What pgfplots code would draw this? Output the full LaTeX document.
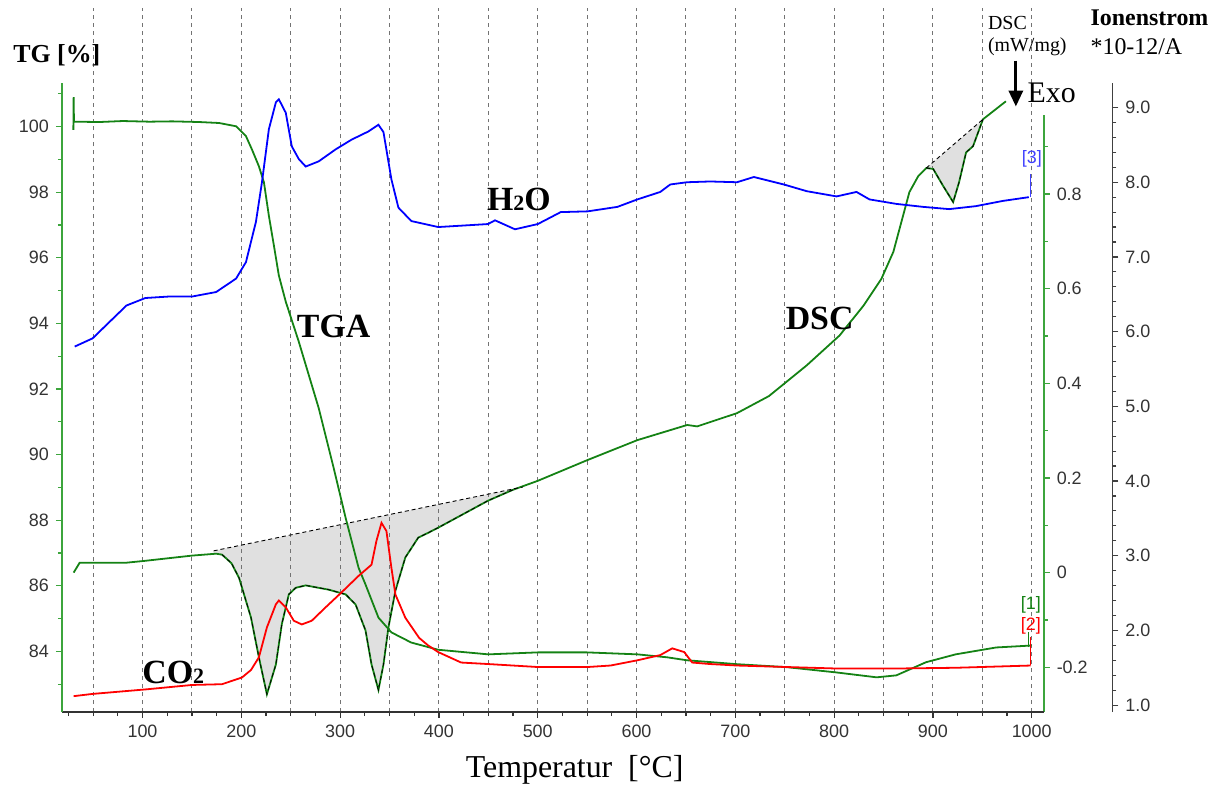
\documentclass[border=0pt]{standalone}
\usepackage{pgfplots}
\pgfplotsset{compat=1.18}
\usepackage{pgfplotstable}
\usepgfplotslibrary{fillbetween}
\usetikzlibrary{arrows.meta}
\usepackage{fontspec}
\setmainfont{Liberation Serif}
\newfontfamily\tickfont{Liberation Sans}

\definecolor{tggreen}{RGB}{20,130,20}
\definecolor{axgreen}{RGB}{60,165,60}
\definecolor{h2oblue}{RGB}{0,0,255}
\definecolor{co2red}{RGB}{255,0,0}

\pgfplotstableread{
T V
30.0 99.90
30.3 100.90
30.6 100.15
56.6 100.14
80 100.17
107 100.15
130 100.16
157 100.14
177.5 100.11
194.7 100.01
204.7 99.71
210.8 99.30
217.8 98.79
222.9 98.30
227.9 97.28
233.0 96.37
238.0 95.46
245.0 94.66
258.2 93.44
278.4 91.41
293.5 89.59
305.6 88.07
318.7 86.55
325.7 86.04
338.8 85.03
351.9 84.58
372.0 84.27
399.3 84.05
450 83.91
500 83.97
550 83.97
601 83.91
631 83.82
651 83.73
702 83.61
752 83.52
802 83.36
843 83.21
863 83.27
893 83.67
923 83.91
964 84.12
1000 84.18
}\tgdata

\pgfplotstableread{
T V
30.3 0.000
36.4 0.021
83.8 0.021
102.9 0.025
150.3 0.036
174.5 0.040
180.5 0.038
190.0 0.020
197.7 -0.011
209.8 -0.095
217.8 -0.179
225.9 -0.257
235.0 -0.194
241.0 -0.109
248.1 -0.046
255.1 -0.032
265.2 -0.027
288.4 -0.036
305.6 -0.046
315.6 -0.067
325.7 -0.122
331.8 -0.194
338.8 -0.248
343.9 -0.194
348.9 -0.116
356.0 -0.038
366.0 0.032
379.1 0.074
389.0 0.084
399.3 0.095
449.7 0.152
474.9 0.175
500.1 0.194
550.5 0.238
600.9 0.280
651.3 0.312
661.4 0.309
701.7 0.337
734.0 0.373
772.3 0.438
805.5 0.501
829.7 0.564
847.9 0.621
860.0 0.678
868.1 0.741
876.2 0.804
885.2 0.838
893.3 0.855
900.3 0.853
910.4 0.817
920.5 0.783
926.5 0.825
933.6 0.888
940.6 0.901
950.7 0.958
973.9 0.996
}\dscdata

\pgfplotstableread{
T V
31.4 5.80
49.5 5.91
66.6 6.13
83.8 6.35
102.9 6.45
127.1 6.47
150.3 6.47
174.5 6.53
194.7 6.71
204.7 6.93
214.8 7.47
220.9 8.00
227.9 8.71
235.0 9.07
238.0 9.11
245.0 8.93
251.1 8.48
258.2 8.31
265.2 8.21
278.4 8.28
295.5 8.44
311.6 8.57
328.7 8.68
338.8 8.77
343.9 8.67
351.9 8.04
359.0 7.66
372.1 7.48
399.3 7.40
449.7 7.44
456.8 7.49
477.0 7.37
500.1 7.44
523.3 7.60
550.5 7.61
580.7 7.67
600.9 7.77
624.1 7.87
634.2 7.97
651.3 8.00
674.5 8.01
701.7 8.00
718.8 8.07
749.1 7.97
772.3 7.88
802.5 7.81
822.7 7.87
835.8 7.77
863.0 7.71
890.2 7.67
916.4 7.64
943.6 7.68
970.9 7.75
997.1 7.80
}\hdata

\pgfplotstableread{
T V
30.3 1.12
49.5 1.15
102.9 1.21
150.3 1.27
180.5 1.28
200.7 1.37
209.8 1.47
217.8 1.64
225.9 2.04
235.0 2.35
238.0 2.40
245.0 2.31
253.1 2.13
261.2 2.08
271.3 2.13
285.4 2.31
301.5 2.51
318.7 2.73
331.8 2.88
336.8 3.20
341.9 3.44
346.9 3.33
351.9 2.84
356.0 2.48
366.0 2.17
380.0 1.90
389.0 1.80
399.3 1.71
422.5 1.57
449.7 1.55
500.1 1.51
550.5 1.51
573.7 1.53
600.9 1.60
624.1 1.67
636.2 1.76
648.3 1.71
656.4 1.57
674.5 1.55
701.7 1.53
752.1 1.51
802.5 1.49
863.0 1.49
923.5 1.50
999.0 1.53
}\cdata

\pgfplotsset{
 base/.style={scale only axis, width=493pt, height=316pt, at={(0pt,0pt)}, anchor=south west, xmin=18.25, xmax=1012.2},
 mytick/.style={tick align=outside, major tick length=3pt, minor tick length=2pt,
   /pgf/number format/assume math mode=true, /pgf/number format/1000 sep={},
   tick label style={font=\tickfont\fontsize{9}{10}\selectfont, text=black!80}},
}

\begin{document}
\begin{tikzpicture}
\path (-31pt,-38pt) rectangle (576.5pt,357.5pt);

% shaded peak areas (DSC scale)
\begin{axis}[base, ymin=-0.2947, ymax=1.0358, hide axis]
\addplot[draw=none, name path=dsc] table[x=T,y=V]{\dscdata};
\addplot[draw=none, name path=b1] coordinates {(172,0.046) (485,0.181)};
\addplot[draw=none, name path=b2] coordinates {(893.3,0.855) (950.7,0.958)};
\addplot[black!12] fill between[of=dsc and b1, soft clip={domain=172:485}];
\addplot[black!12] fill between[of=dsc and b2, soft clip={domain=893.3:950.7}];
\end{axis}

% vertical dashed grid
\begin{axis}[scale only axis, width=493pt, height=353.5pt, at={(0pt,0pt)}, anchor=south west,
  xmin=18.25, xmax=1012.2, ymin=0, ymax=1,
  xtick={50,100,...,1000}, ytick=\empty, xticklabels={},
  xmajorgrids, major grid style={black!55, dash pattern=on 2pt off 2pt, line width=0.45pt},
  axis line style={draw=none}, tick style={draw=none}]
\addplot[draw=none] coordinates {(500,0.5)};
\end{axis}

% DSC axis
\begin{axis}[scale only axis, width=493pt, height=300pt, at={(0pt,0pt)}, anchor=south west,
  xmin=18.25, xmax=1012.2, ymin=-0.2947, ymax=0.968, clip=false,
  axis x line=none, axis y line*=right, mytick,
  ytick={-0.2,0,0.2,0.4,0.6,0.8}, minor ytick={-0.1,0.1,0.3,0.5,0.7,0.9},
  y axis line style={-, axgreen, line width=0.8pt}, ytick style={axgreen, line width=0.6pt},
  yticklabel style={/pgf/number format/fixed}]
\addplot[tggreen, line width=0.9pt] table[x=T,y=V]{\dscdata};
\addplot[black, dash pattern=on 2pt off 1.5pt, line width=0.45pt] coordinates {(172,0.046) (485,0.181)};
\addplot[black, dash pattern=on 2pt off 1.5pt, line width=0.45pt] coordinates {(893.3,0.855) (950.7,0.958)};
\addplot[black, dash pattern=on 2pt off 1.5pt, line width=0.4pt, restrict x to domain=176:476] table[x=T,y=V]{\dscdata};
\addplot[black, dash pattern=on 2pt off 1.5pt, line width=0.4pt, restrict x to domain=893:951] table[x=T,y=V]{\dscdata};
\end{axis}

% TG axis with x axis
\begin{axis}[base, ymin=82.15, ymax=101.34,
  axis x line*=bottom, axis y line*=left, mytick,
  xtick={100,200,...,1000}, minor xtick={25,50,...,1000},
  ytick={84,86,...,100}, minor ytick={83,85,...,101},
  x axis line style={-, black!80, line width=0.8pt}, y axis line style={-, axgreen, line width=0.8pt},
  xtick style={black!80, line width=0.6pt}, ytick style={axgreen, line width=0.6pt}]
\addplot[tggreen, line width=0.9pt] table[x=T,y=V]{\tgdata};
\end{axis}

% Ion current axis
\begin{axis}[scale only axis, width=527.5pt, height=316pt, at={(0pt,0pt)}, anchor=south west,
  xmin=18.25, xmax=1081.76, ymin=0.9067, ymax=9.333,
  axis x line=none, axis y line*=right, mytick,
  ytick={1,2,...,9}, minor y tick num=4,
  yticklabel style={/pgf/number format/fixed, /pgf/number format/fixed zerofill, /pgf/number format/precision=1},
  y axis line style={-, black!75, line width=0.8pt}, ytick style={black!75, line width=0.6pt}]
\addplot[h2oblue, line width=0.9pt] table[x=T,y=V]{\hdata};
\addplot[co2red, line width=0.9pt] table[x=T,y=V]{\cdata};
\end{axis}

% annotations
\node[font=\bfseries\fontsize{13}{15}\selectfont] at (-2.5pt,330pt) {TG [\%]};
\node[anchor=west, align=left, font=\fontsize{10}{11}\selectfont] at (461.5pt,339.5pt) {DSC\\(mW/mg)};
\node[anchor=west, align=left, font=\fontsize{12}{14.5}\selectfont] at (513pt,341.25pt) {{\bfseries Ionenstrom}\\{}*10-12/A};
\draw[line width=1.6pt, -{Triangle[length=8pt,width=7pt]}] (479pt,327pt) -- (479pt,304pt);
\node[font=\fontsize{15}{17}\selectfont] at (497pt,311pt) {Exo};
\node[font=\fontsize{16}{18}\selectfont] at (257.5pt,-29pt) {Temperatur\enspace[°C]};
\node[font=\bfseries\fontsize{17}{19}\selectfont] at (229.5pt,257.5pt) {H{\fontsize{11}{11}\selectfont 2}O};
\node[font=\bfseries\fontsize{17}{19}\selectfont] at (136.5pt,193.5pt) {TGA};
\node[font=\bfseries\fontsize{17}{19}\selectfont] at (380.5pt,197.5pt) {DSC};
\node[font=\bfseries\fontsize{17}{19}\selectfont] at (56pt,20pt) {CO{\fontsize{11}{11}\selectfont 2}};
\node[text=h2oblue!75, font=\tickfont\fontsize{9}{10}\selectfont] at (487pt,277.5pt) {[3]};
\draw[h2oblue!75, line width=0.5pt] (486.5pt,270pt) -- (486.5pt,258.5pt);
\node[text=tggreen, font=\tickfont\fontsize{9}{10}\selectfont] at (486.5pt,54pt) {[1]};
\draw[tggreen, line width=0.5pt] (485.5pt,32.5pt) -- (485.5pt,40pt);
\node[text=co2red, font=\tickfont\fontsize{9}{10}\selectfont] at (486.5pt,43.5pt) {[2]};
\draw[co2red, line width=0.5pt] (486.5pt,23.5pt) -- (486.5pt,37.5pt);
\end{tikzpicture}
\end{document}
